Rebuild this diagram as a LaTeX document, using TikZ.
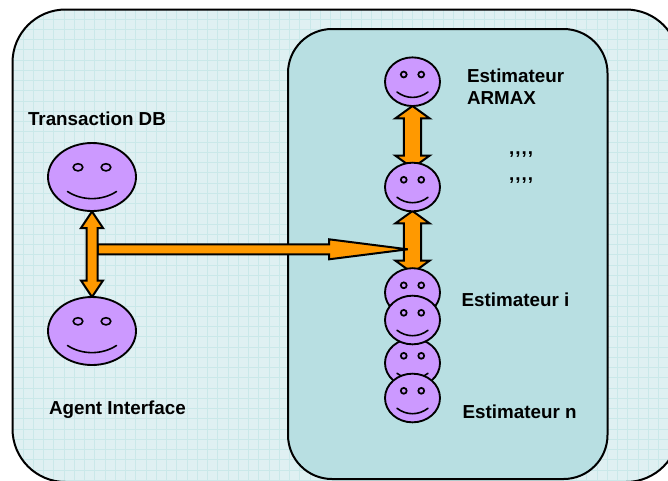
\documentclass[tikz,border=0pt]{standalone}
\usepackage{fontspec}
\setmainfont{Liberation Sans}
\usetikzlibrary{shapes.geometric,calc}
\definecolor{outerbg}{HTML}{DFF0F2}
\definecolor{gridc}{HTML}{CAE8E9}
\definecolor{innerbg}{HTML}{B8DFE2}
\definecolor{facec}{HTML}{CC99FF}
\definecolor{arrowc}{HTML}{FF9900}
\tikzset{
  panel/.style={draw=black,line width=1.5pt},
  gridline/.style={draw=gridc,line width=0.75pt},
  facebig/.style={ellipse,draw=black,fill=facec,line width=1.4pt,inner sep=0pt,outer sep=0pt,minimum width=66pt,minimum height=51pt},
  facesmall/.style={ellipse,draw=black,fill=facec,line width=1.4pt,inner sep=0pt,outer sep=0pt,minimum width=41.25pt,minimum height=36.5pt},
  feature/.style={draw=black,line width=1.2pt,line cap=round},
  blockarrow/.style={draw=black,fill=arrowc,line width=1.5pt,line join=miter,miter limit=4},
  lab/.style={anchor=base west,inner sep=0pt,outer sep=0pt,font=\fontsize{14.1pt}{16pt}\selectfont\bfseries,align=left},
}
% name, x, y
\newcommand{\bigface}[3]{%
  \node[facebig] (#1) at (#2,#3) {};
  \draw[feature,fill=facec] ($(#1)+(-14,-9.7)$) ellipse [x radius=3.6pt,y radius=2.7pt];
  \draw[feature,fill=facec] ($(#1)+(14,-9.7)$) ellipse [x radius=3.6pt,y radius=2.7pt];
  \draw[feature] ($(#1)+(-24.5,14.5)$) .. controls ($(#1)+(-10,24)$) and ($(#1)+(10,24)$) .. ($(#1)+(24.5,14.5)$);
}
\newcommand{\smallface}[3]{%
  \node[facesmall] (#1) at (#2,#3) {};
  \draw[feature,line width=1.3pt] ($(#1)+(-8.75,-7.2)$) circle [radius=2.2pt];
  \draw[feature,line width=1.3pt] ($(#1)+(8.75,-7.2)$) circle [radius=2.2pt];
  \draw[feature] ($(#1)+(-15.5,10.3)$) .. controls ($(#1)+(-6,17.5)$) and ($(#1)+(6,17.5)$) .. ($(#1)+(15.5,10.3)$);
}
% from, to (vertical), head half width, shaft half width, head length
\newcommand{\dblarrow}[5]{%
  \draw[blockarrow] (#1) -- ($(#1)+(#3,#5)$) -- ($(#1)+(#4,#5)$) -- ($(#2)+(#4,-#5)$) -- ($(#2)+(#3,-#5)$) -- (#2)
    -- ($(#2)+(-#3,-#5)$) -- ($(#2)+(-#4,-#5)$) -- ($(#1)+(-#4,#5)$) -- ($(#1)+(-#3,#5)$) -- cycle;
}
\begin{document}
\begin{tikzpicture}[x=0.75pt,y=-0.75pt]
\useasboundingbox (0,0) rectangle (668,480);
\clip (0,0) rectangle (668,480);
\fill[white] (0,0) rectangle (668,480);
% outer panel with its grid
\fill[outerbg,rounded corners=39.75pt] (12.5,9.5) rectangle (679,482);
\begin{scope}
  \clip[rounded corners=39.75pt] (12.5,9.5) rectangle (679,482);
  \foreach \i in {0,...,65} {\draw[gridline] (12.9+10.25*\i,0) -- (12.9+10.25*\i,490);}
  \foreach \i in {0,...,47} {\draw[gridline] (0,8.8+10.25*\i) -- (690,8.8+10.25*\i);}
\end{scope}
\draw[panel,rounded corners=39.75pt] (12.5,9.5) rectangle (679,482);
% inner panel
\draw[panel,fill=innerbg,rounded corners=33pt] (288,29) rectangle (607.5,479);
% anchor points of the arrows
\coordinate (lfrom) at (97.7,249.3);
\coordinate (lto) at (407.7,249.3);
\coordinate (t1) at (412.5,106);
\coordinate (b1) at (412.5,168);
\coordinate (t2) at (412.5,211);
\coordinate (b2) at (412.5,273);
\coordinate (t3) at (92,211.5);
\coordinate (b3) at (92,297);
% right column arrows
\dblarrow{t1}{b1}{17}{8.7}{12.3}
\dblarrow{t2}{b2}{17}{8.7}{12.3}
% long arrow
\draw[blockarrow] ($(lfrom)+(0,-5)$) -- ($(lfrom)+(231.3,-5)$) -- ($(lfrom)+(231.3,-10)$) -- (lto)
  -- ($(lfrom)+(231.3,10)$) -- ($(lfrom)+(231.3,5)$) -- ($(lfrom)+(0,5)$) -- cycle;
% left arrow
\dblarrow{t3}{b3}{11}{5.5}{16.5}
% faces
\bigface{tdb}{92}{177}
\bigface{agent}{92}{331}
\smallface{f1}{412.5}{81.7}
\smallface{f2}{412.5}{187}
\smallface{f3}{412.5}{292.5}
\smallface{f5}{412.5}{363}
\smallface{f4}{412.5}{320}
\smallface{f6}{412.5}{398}
% labels
\node[lab] (ltdb) at (28,125) {Transaction DB};
\node[lab] (lagent) at (49,414) {Agent Interface};
\node[lab] (larmax1) at (467,82.7) {Estimateur};
\node[lab] (larmax2) at (467,104) {ARMAX};
\node[lab] (ldots1) at (509,154) {,\kern0.8pt,\kern0.8pt,\kern0.8pt,};
\node[lab] (ldots2) at (509,180) {,\kern0.8pt,\kern0.8pt,\kern0.8pt,};
\node[lab] (li) at (461.7,306.7) {Estimateur i};
\node[lab] (ln) at (462.7,418.7) {Estimateur n};
\end{tikzpicture}
\end{document}
